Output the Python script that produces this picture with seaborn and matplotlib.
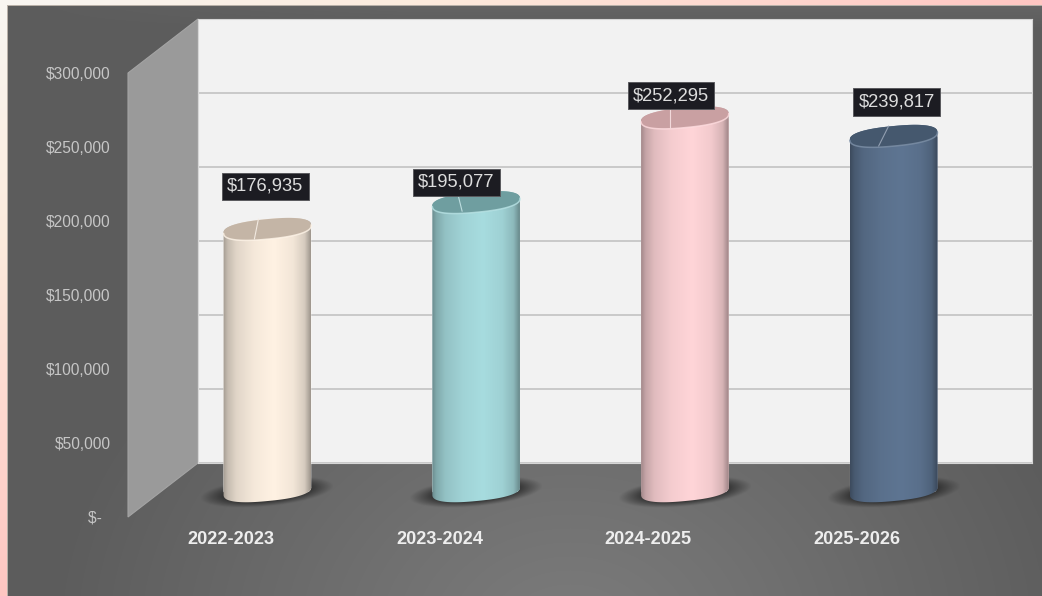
import numpy as np
import pandas as pd
import seaborn as sns
import matplotlib
matplotlib.use("Agg")
import matplotlib.pyplot as plt
from matplotlib.colors import to_rgb
from matplotlib.patches import PathPatch, Polygon
from matplotlib.path import Path
from matplotlib.ticker import FuncFormatter
from matplotlib.transforms import IdentityTransform

periods = ["2022-2023", "2023-2024", "2024-2025", "2025-2026"]
amounts = [176935, 195077, 252295, 239817]
value_labels = ["$176,935", "$195,077", "$252,295", "$239,817"]
body_colors = ["#FFF2E3", "#A7DCDF", "#FFD5D8", "#5E7592"]
cap_colors = ["#C4B5A6", "#6F9EA0", "#C9A0A2", "#45586E"]
label_offsets = [(-2, 43), (-20, 20), (-14, 22), (3, 34)]
leader_offsets = [((-9, 10), (-13, -10)), ((-18, 7), (-14, -9)), ((-15, 9), (-15, -10)), ((-5, 10), (-15, -10))]

W, H = 1042, 596
Y_MAX = 300000
PLOT_PX = 444
A, B, TILT = 44.0, 10.0, np.radians(5.5)
ROUND = 0.82

plt.rcParams["font.family"] = ["Liberation Sans", "DejaVu Sans"]
sns.set_style("white")
plt.rcParams["font.family"] = ["Liberation Sans", "DejaVu Sans"]

fig = plt.figure(figsize=(W / 100, H / 100), dpi=100)


def px_axes(left, top, right, bottom, **kw):
    return fig.add_axes([left / W, 1 - bottom / H, (right - left) / W, (bottom - top) / H], **kw)


# page and panel background
ax_bg = px_axes(0, 0, W, H)
ax_bg.set_axis_off()
yy, xx = np.mgrid[0:H, 0:W]
t = np.clip(xx / W + yy / H, 0, 1)
stops = [0, 0.4, 1]
frame = [to_rgb("#F8F6F2"), to_rgb("#FCEBDD"), to_rgb("#FFC6C2")]
bg = np.dstack([np.interp(t, stops, [c[k] for c in frame]) for k in range(3)])
dist = np.hypot((xx - 570) / 1.25, yy - 640)
grey = np.interp(dist, [0, 140, 420], [0x7C, 0x72, 0x5C]) / 255
grey = grey + np.interp(yy, [6, 30], [0.03, 0.0]) * np.clip(xx / 400, 0.1, 1)
panel = (xx >= 8) & (yy >= 6)
bg[panel] = np.dstack([grey] * 3)[panel]
bg[(yy == 5) & (xx >= 8)] = to_rgb("#B8B0A8")
bg[(xx == 7) & (yy >= 5)] = to_rgb("#B8B0A8")
ax_bg.imshow(bg, extent=(0, W, H, 0), aspect="auto", interpolation="bilinear")
ax_bg.set_xlim(0, W)
ax_bg.set_ylim(H, 0)
ax_bg.add_patch(Polygon([(128, 73), (198, 19), (198, 463), (128, 517)], closed=True,
                        fc="#9A9A9A", ec="#A4A4A4", lw=0.8))

# back wall with the gridlines
ax_wall = px_axes(198, 19, 1032, 463)
ax_wall.set_facecolor("#F2F2F2")
ax_wall.set_ylim(0, Y_MAX)
ax_wall.set_yticks(range(0, Y_MAX + 1, 50000))
ax_wall.set_xticks([])
ax_wall.tick_params(left=False, labelleft=False)
ax_wall.grid(axis="y", color="#C6C6C6", lw=1.3)
ax_wall.set_axisbelow(True)
for s in ax_wall.spines.values():
    s.set_color("#D6D6D6")
    s.set_linewidth(0.8)

# front plane: value axis and period labels
ax_front = px_axes(126.5, 73, 961.5, 517)
ax_front.patch.set_alpha(0)
ax_front.set_ylim(0, Y_MAX)
ax_front.set_xlim(-0.5, 3.5)
ax_front.set_yticks(range(0, Y_MAX + 1, 50000))
ax_front.yaxis.set_major_formatter(FuncFormatter(lambda v, _: f"${v:,.0f}" if v else "$-  "))
ax_front.tick_params(axis="y", length=0, pad=11.5, labelsize=11.2, labelcolor="#C6C6C6")
ax_front.set_xticks(range(len(periods)), periods)
ax_front.tick_params(axis="x", length=0, pad=10, labelsize=13.1, labelcolor="#EEEEEE")
for lab in ax_front.get_xticklabels():
    lab.set_fontweight("bold")
for s in ax_front.spines.values():
    s.set_visible(False)

# cylinders, in a plane half way through the depth
ax_mid = px_axes(163, 0, 998, H)
ax_mid.patch.set_alpha(0)
df = pd.DataFrame({"period": periods, "amount": amounts})
sns.barplot(data=df, x="period", y="amount", hue="period", palette=body_colors, hue_order=periods,
            width=88 / 208.75, saturation=1, legend=False, ax=ax_mid)
unit = Y_MAX / PLOT_PX
ylim = (-(H - 491) * unit, 491 * unit)
ax_mid.set_xlim(-0.5, 3.5)
ax_mid.set_ylim(*ylim)
ax_mid.set_axis_off()

profile_t = [0, 0.05, 0.15, 0.35, 0.58, 0.8, 0.93, 1]
profile_v = [0.64, 0.77, 0.88, 0.96, 1.0, 0.95, 0.84, 0.62]
fig.canvas.draw()


def ell(cx, cy, ts):
    c, s = np.cos(ts), np.sin(ts)
    x = A * np.sign(c) * np.abs(c) ** ROUND
    y = B * np.sign(s) * np.abs(s) ** ROUND
    return (cx + x * np.cos(TILT) - y * np.sin(TILT), cy + x * np.sin(TILT) + y * np.cos(TILT))


to_disp = ax_mid.transData.transform
to_data = ax_mid.transData.inverted().transform
bars = sorted(ax_mid.patches, key=lambda p: p.get_x())
for i, (bar, body, cap) in enumerate(zip(bars, body_colors, cap_colors)):
    xc = bar.get_x() + bar.get_width() / 2
    v = bar.get_height()
    cx, ctop = to_disp((xc, v))
    _, cbase = to_disp((xc, 0))

    # soft floor shadow
    sy, sx = np.mgrid[-34:35, -84:85]
    u = sx * np.cos(TILT) + sy * np.sin(TILT)
    w = -sx * np.sin(TILT) + sy * np.cos(TILT)
    r = np.hypot(u / 60, (w + 1) / 13)
    alpha = 0.8 * np.clip((1.12 - r) / 0.42, 0, 1)
    rgba = np.zeros(alpha.shape + (4,))
    rgba[..., :3] = 0.14
    rgba[..., 3] = alpha
    x0, y0 = to_data((cx - 84, cbase - 34))
    x1, y1 = to_data((cx + 84, cbase + 34))
    ax_mid.imshow(rgba, extent=(x0, x1, y0, y1), origin="lower", aspect="auto", zorder=0.5,
                  interpolation="bilinear")

    # cylinder outline
    tx, ty = ell(cx, ctop, np.linspace(np.pi, 0, 80))
    bx, by = ell(cx, cbase, np.linspace(0, -np.pi, 80))
    verts = np.column_stack([np.r_[tx, bx], np.r_[ty, by]])
    verts = np.vstack([verts, verts[0]])
    codes = [Path.MOVETO] + [Path.LINETO] * (len(verts) - 2) + [Path.CLOSEPOLY]
    outline = PathPatch(Path(verts, codes), transform=IdentityTransform(), fc="none", ec="none")
    ax_mid.add_patch(outline)
    bar.set_clip_path(outline)

    # lit shading across the cylinder
    col = np.array(to_rgb(body))
    s = np.linspace(0, 1, 176)
    shade = np.interp(s, profile_t, profile_v)
    grad = (shade[:, None] * col)[None, :, :]
    ex0, ey0 = to_data((cx - A, cbase - 20))
    ex1, ey1 = to_data((cx + A, ctop + 20))
    im = ax_mid.imshow(grad, extent=(ex0, ex1, ey0, ey1), aspect="auto", zorder=3,
                       interpolation="bilinear")
    im.set_clip_path(outline)

    # top cap and its light front rim
    cap_x, cap_y = ell(cx, ctop, np.linspace(0, 2 * np.pi, 160))
    ax_mid.add_patch(Polygon(np.column_stack([cap_x, cap_y]), closed=True, transform=IdentityTransform(),
                             fc=cap, ec="none", zorder=4))
    rx, ry = ell(cx, ctop, np.linspace(np.pi, 2 * np.pi, 80))
    ax_mid.plot(rx, ry, transform=IdentityTransform(), color=tuple(0.8 * col + 0.2), lw=1.1, alpha=0.8,
                solid_capstyle="round", zorder=4.5)
    p, q = leader_offsets[i]
    ax_mid.plot([cx + p[0], cx + q[0]], [ctop + p[1], ctop + q[1]], transform=IdentityTransform(),
                color=tuple(0.6 * col + 0.35), lw=0.8, zorder=5)
    ax_mid.annotate(value_labels[i], xy=(xc, v), xytext=label_offsets[i], textcoords="offset pixels",
                    ha="center", va="center", fontsize=13.2, color="#DDDDDD", zorder=6, parse_math=False,
                    bbox=dict(boxstyle="square,pad=0.28", fc="#1C1C22", ec="#5A5A5E", lw=0.7))

ax_mid.set_xlim(-0.5, 3.5)
ax_mid.set_ylim(*ylim)
fig.savefig("out.png", dpi=100)
